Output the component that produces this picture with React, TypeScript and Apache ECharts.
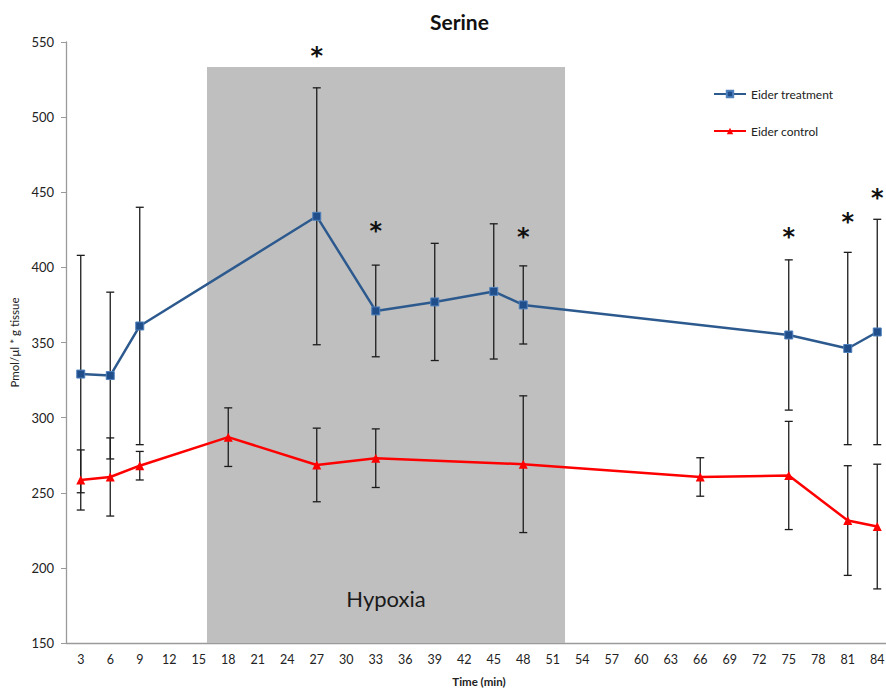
import React, { useEffect, useRef } from "react";
import * as echarts from "echarts";

// ---- data ----
const timeLabels = [
  "3", "6", "9", "12", "15", "18", "21", "24", "27", "30", "33", "36", "39", "42",
  "45", "48", "51", "54", "57", "60", "63", "66", "69", "72", "75", "78", "81", "84",
];

const treatmentTime = [3, 6, 9, 27, 33, 39, 45, 48, 75, 81, 84];
const treatmentMean = [329, 328, 361, 434, 371, 377, 384, 375, 355, 346, 357];
const treatmentErr = [79, 55.5, 79, 85.5, 30.5, 39, 45, 26, 50, 64, 75];

const controlTime = [3, 6, 9, 18, 27, 33, 48, 66, 75, 81, 84];
const controlMean = [258.5, 260.5, 268, 287, 268.5, 273, 269, 260.5, 261.5, 231.5, 227.5];
const controlErr = [20, 26, 9.5, 19.5, 24.5, 19.5, 45.5, 12.8, 36, 36.5, 41.5];

const sigTime = [27, 33, 48, 75, 81, 84];
const sigLevel = [543, 426, 422, 422, 432, 448];

const hypoxiaStart = 15.84;
const hypoxiaEnd = 52.25;
const hypoxiaTop = 533.4;

const yTicks = { min: 150, max: 550, interval: 50 };

export default function App() {
  const ref = useRef<HTMLDivElement>(null);

  useEffect(() => {
    const chart = echarts.init(ref.current!, null, { renderer: "svg" });
    const font = "Lato, 'Open Sans', sans-serif";

    const treatmentData = treatmentTime.map((t, i) => [t, treatmentMean[i]]);
    const controlData = controlTime.map((t, i) => [t, controlMean[i]]);
    const errData = [
      ...treatmentTime.map((t, i) => [t, treatmentMean[i] - treatmentErr[i], treatmentMean[i] + treatmentErr[i]]),
      ...controlTime.map((t, i) => [t, controlMean[i] - controlErr[i], controlMean[i] + controlErr[i]]),
    ];
    const sigData = sigTime.map((t, i) => [t, sigLevel[i]]);

    const errRender = (_p: any, api: any) => {
      const x = api.value(0);
      const top = api.coord([x, api.value(2)]);
      const bot = api.coord([x, api.value(1)]);
      const cap = 4;
      const st = { stroke: "#1c1c1c", lineWidth: 1.3 };
      return {
        type: "group",
        children: [
          { type: "line", shape: { x1: top[0], y1: top[1], x2: bot[0], y2: bot[1] }, style: st },
          { type: "line", shape: { x1: top[0] - cap, y1: top[1], x2: top[0] + cap, y2: top[1] }, style: st },
          { type: "line", shape: { x1: bot[0] - cap, y1: bot[1], x2: bot[0] + cap, y2: bot[1] }, style: st },
        ],
      };
    };

    const sigRender = (_p: any, api: any) => {
      const p = api.coord([api.value(0), api.value(1)]);
      return {
        type: "text",
        x: p[0],
        y: p[1] - 9,
        style: {
          text: "*",
          font: "bold 24px 'DejaVu Sans', sans-serif",
          fill: "#111",
          textAlign: "center",
          textVerticalAlign: "top",
        },
      };
    };

    chart.setOption({
      animation: false,
      backgroundColor: "#ffffff",
      title: {
        text: "Serine",
        left: 425,
        top: 6,
        textStyle: { fontFamily: font, fontSize: 21, fontWeight: "bold", color: "#111" },
      },
      legend: {
        data: ["Eider treatment", "Eider control"],
        orient: "vertical",
        left: 708,
        top: 83,
        itemWidth: 32,
        itemHeight: 8,
        itemGap: 25,
        textStyle: { fontFamily: font, fontSize: 12, color: "#222" },
      },
      grid: { left: 66, right: 0, top: 42, bottom: 48 },
      xAxis: [
        {
          type: "category",
          data: timeLabels,
          boundaryGap: true,
          axisLine: { lineStyle: { color: "#9a9a9a", width: 1.3 } },
          axisTick: { length: 5, lineStyle: { color: "#9a9a9a" } },
          axisLabel: { interval: 0, color: "#222", fontSize: 12.5, fontFamily: font, margin: 10 },
          name: "Time (min)",
          nameLocation: "middle",
          nameGap: 32,
          nameTextStyle: { fontFamily: font, fontSize: 11.5, fontWeight: "bold", color: "#222" },
        },
        { type: "value", min: 1.5, max: 85.5, show: false },
      ],
      yAxis: {
        type: "value",
        min: yTicks.min,
        max: yTicks.max,
        interval: yTicks.interval,
        splitLine: { show: false },
        axisLine: { show: true, lineStyle: { color: "#9a9a9a", width: 1.3 } },
        axisTick: { show: true, length: 5, lineStyle: { color: "#9a9a9a" } },
        axisLabel: { color: "#222", fontSize: 13, fontFamily: font, margin: 12 },
        name: "Pmol/µl * g tissue",
        nameLocation: "middle",
        nameGap: 46,
        nameTextStyle: { fontFamily: font, fontSize: 11.5, color: "#222" },
      },
      series: [
        {
          name: "errors",
          type: "custom",
          xAxisIndex: 1,
          renderItem: errRender,
          encode: { x: 0, y: [1, 2] },
          data: errData,
          z: 3,
          silent: true,
        },
        {
          name: "Eider treatment",
          type: "line",
          xAxisIndex: 1,
          data: treatmentData,
          symbol: "rect",
          symbolSize: 8,
          lineStyle: { color: "#2d5a8e", width: 2.5 },
          itemStyle: { color: "#1f4e8a", borderColor: "#4f81bd", borderWidth: 1 },
          z: 4,
          markArea: {
            silent: true,
            itemStyle: { color: "#bfbfbf" },
            label: {
              show: true,
              position: "insideBottom",
              distance: 34,
              formatter: "Hypoxia",
              fontFamily: font,
              fontSize: 22,
              color: "#1a1a1a",
            },
            data: [[{ xAxis: hypoxiaStart, yAxis: yTicks.min }, { xAxis: hypoxiaEnd, yAxis: hypoxiaTop }]],
          },
        },
        {
          name: "Eider control",
          type: "line",
          xAxisIndex: 1,
          data: controlData,
          symbol: "triangle",
          symbolSize: 9,
          lineStyle: { color: "#ff0000", width: 2.5 },
          itemStyle: { color: "#ff0000" },
          z: 4,
        },
        {
          name: "sig",
          type: "custom",
          xAxisIndex: 1,
          renderItem: sigRender,
          data: sigData,
          z: 5,
          silent: true,
        },
      ],
    });

    return () => chart.dispose();
  }, []);

  return (
    <div style={{ position: "absolute", left: 0, top: 0, width: 886, height: 692, overflow: "hidden" }}>
      <div ref={ref} style={{ width: 892, height: 692 }} />
    </div>
  );
}
